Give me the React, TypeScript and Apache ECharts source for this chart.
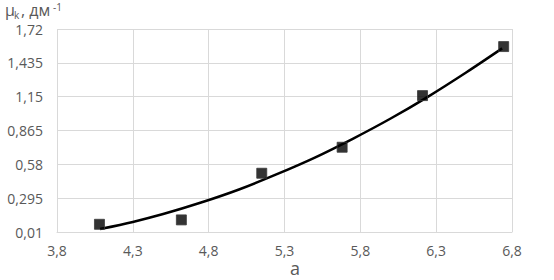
import React, { useEffect, useRef } from "react";
import * as echarts from "echarts";

const pointX = [4.08, 4.62, 5.15, 5.68, 6.21, 6.745];
const pointY = [0.075, 0.112, 0.505, 0.724, 1.159, 1.572];

const trendX = [4.084, 4.3, 4.5, 4.75, 5.0, 5.25, 5.5, 5.75, 6.0, 6.25, 6.5, 6.735];
const trendY = [0.035, 0.095, 0.161, 0.258, 0.368, 0.497, 0.637, 0.795, 0.966, 1.153, 1.356, 1.557];

const xMin = 3.8;
const xMax = 6.8;
const xStep = 0.5;
const yTicks = [0.01, 0.295, 0.58, 0.865, 1.15, 1.435, 1.72];

const FONT = "'Open Sans', 'Noto Sans', sans-serif";
const GREY = "#595959";
const fmt = (v: number) => String(Math.round(v * 1000) / 1000).replace(".", ",");

export default function App() {
  const ref = useRef<HTMLDivElement>(null);
  useEffect(() => {
    if (!ref.current) return;
    const chart = echarts.init(ref.current, undefined, { renderer: "svg" });
    chart.setOption({
      animation: false,
      backgroundColor: "#ffffff",
      grid: { left: 57, right: 42, top: 29, bottom: 48 },
      xAxis: {
        type: "value",
        min: xMin,
        max: xMax,
        interval: xStep,
        axisLine: { show: true, lineStyle: { color: "#d9d9d9", width: 1 } },
        axisTick: { show: false },
        splitLine: { show: true, lineStyle: { color: "#d9d9d9", width: 1 } },
        axisLabel: {
          color: GREY,
          fontFamily: FONT,
          fontSize: 14,
          margin: 11,
          formatter: (v: number) => fmt(v),
          showMinLabel: true,
          showMaxLabel: true,
        },
      },
      yAxis: {
        type: "value",
        min: yTicks[0],
        max: yTicks[yTicks.length - 1],
        interval: yTicks[1] - yTicks[0],
        axisLine: { show: false },
        axisTick: { show: false },
        splitLine: { show: true, lineStyle: { color: "#d9d9d9", width: 1 } },
        axisLabel: {
          color: GREY,
          fontFamily: FONT,
          fontSize: 14,
          margin: 14,
          formatter: (v: number) => {
            let best = yTicks[0];
            for (const t of yTicks) if (Math.abs(t - v) < Math.abs(best - v)) best = t;
            return fmt(best);
          },
        },
      },
      graphic: [
        {
          type: "text",
          x: 5,
          y: 18,
          style: { text: "μ", fontFamily: FONT, fontSize: 16, lineHeight: 16, fill: GREY, verticalAlign: "bottom", align: "left" },
        },
        {
          type: "text",
          x: 14,
          y: 20,
          style: { text: "k", fontFamily: FONT, fontSize: 10, lineHeight: 11, fill: GREY, verticalAlign: "bottom", align: "left" },
        },
        {
          type: "text",
          x: 21,
          y: 18,
          style: { text: ", дм", fontFamily: FONT, fontSize: 16, lineHeight: 16, fill: GREY, verticalAlign: "bottom", align: "left" },
        },
        {
          type: "text",
          x: 53,
          y: 1,
          style: { text: "-1", fontFamily: FONT, fontSize: 10, lineHeight: 11, fill: GREY, verticalAlign: "top", align: "left" },
        },
        {
          type: "text",
          x: 295,
          y: 268,
          style: { text: "a", fontFamily: FONT, fontSize: 18, fill: GREY, verticalAlign: "middle", align: "center" },
        },
      ],
      series: [
        {
          type: "line",
          data: trendX.map((x, i) => [x, trendY[i]]),
          smooth: 0.3,
          showSymbol: false,
          symbol: "none",
          lineStyle: { color: "#000000", width: 2.5 },
          z: 2,
        },
        {
          type: "scatter",
          data: pointX.map((x, i) => [x, pointY[i]]),
          symbol: "rect",
          symbolSize: 10,
          itemStyle: { color: "#000000", borderColor: "#3a3a3a", borderWidth: 1 },
          z: 3,
        },
      ],
    });
    return () => chart.dispose();
  }, []);
  return <div ref={ref} style={{ width: 554, height: 280, position: "absolute", left: 0, top: 0 }} />;
}
